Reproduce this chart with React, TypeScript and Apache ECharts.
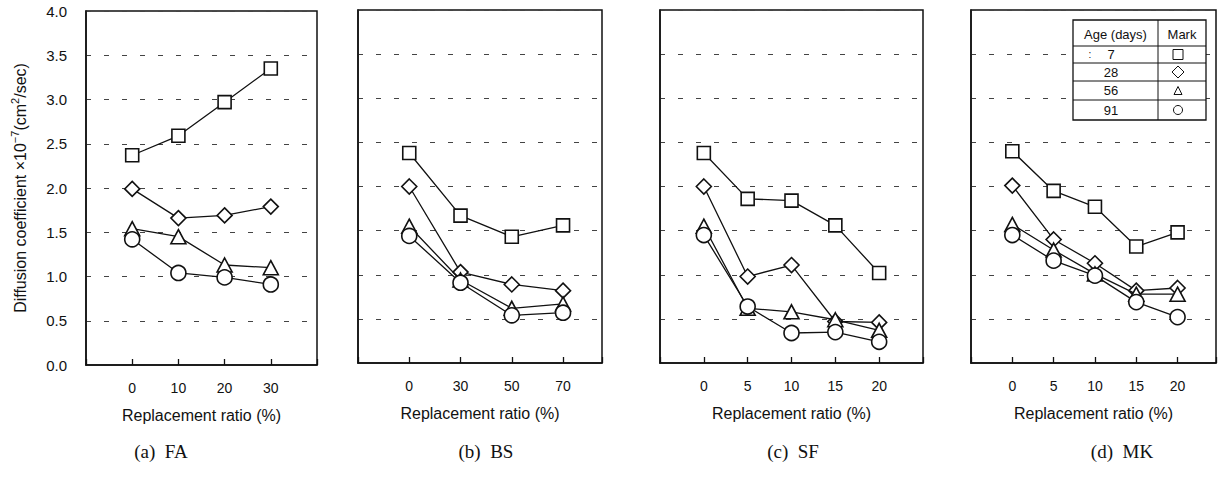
import React, { useEffect, useRef } from "react";
import * as echarts from "echarts";

// Replacement ratio tick labels (%) for each admixture
const faRatios = ["0", "10", "20", "30"];
const bsRatios = ["0", "30", "50", "70"];
const sfRatios = ["0", "5", "10", "15", "20"];
const mkRatios = ["0", "5", "10", "15", "20"];

// Diffusion coefficient (x10^-7 cm2/sec) by curing age: 7, 28, 56, 91 days
const faDay7 = [2.37, 2.59, 2.97, 3.35];
const faDay28 = [1.99, 1.66, 1.69, 1.79];
const faDay56 = [1.54, 1.45, 1.13, 1.1];
const faDay91 = [1.42, 1.04, 0.99, 0.91];

const bsDay7 = [2.38, 1.67, 1.43, 1.56];
const bsDay28 = [2.0, 1.03, 0.89, 0.82];
const bsDay56 = [1.55, 0.94, 0.62, 0.67];
const bsDay91 = [1.44, 0.91, 0.54, 0.57];

const sfDay7 = [2.38, 1.86, 1.84, 1.56, 1.02];
const sfDay28 = [2.0, 0.98, 1.11, 0.47, 0.46];
const sfDay56 = [1.55, 0.62, 0.58, 0.49, 0.37];
const sfDay91 = [1.45, 0.64, 0.34, 0.35, 0.24];

const mkDay7 = [2.4, 1.95, 1.77, 1.32, 1.48];
const mkDay28 = [2.01, 1.4, 1.13, 0.82, 0.85];
const mkDay56 = [1.57, 1.28, 1.01, 0.78, 0.78];
const mkDay91 = [1.45, 1.16, 0.99, 0.69, 0.52];

const ages = ["7", "28", "56", "91"];
const captions = ["(a)  FA", "(b)  BS", "(c)  SF", "(d)  MK"];
const yTicks = [0, 0.5, 1, 1.5, 2, 2.5, 3, 3.5, 4];

const SANS = "'Liberation Sans', Arial, sans-serif";
const SERIF = "'Liberation Serif', 'DejaVu Serif', serif";

const symbols = [
  { symbol: "rect", size: 13 },
  { symbol: "diamond", size: 15 },
  { symbol: "triangle", size: [15, 14] },
  { symbol: "circle", size: 15 },
];

const panels = [
  { ratios: faRatios, ages: [faDay7, faDay28, faDay56, faDay91], grid: { left: 86, top: 11, width: 231, height: 354 }, xMax: 4, center: 161 },
  { ratios: bsRatios, ages: [bsDay7, bsDay28, bsDay56, bsDay91], grid: { left: 358, top: 10, width: 244, height: 353 }, xMax: 3.76, center: 486 },
  { ratios: sfRatios, ages: [sfDay7, sfDay28, sfDay56, sfDay91], grid: { left: 660, top: 10, width: 263, height: 353 }, xMax: 5, center: 793 },
  { ratios: mkRatios, ages: [mkDay7, mkDay28, mkDay56, mkDay91], grid: { left: 971, top: 10, width: 247, height: 353 }, xMax: 4.93, center: 1122 },
];

// Age / mark table drawn in the top right corner of panel (d)
function legendTable() {
  const x0 = 1073, x1 = 1206, xm = 1158;
  const rows = [20, 46, 63, 81, 100, 120];
  const Z = 200;
  const children: any[] = [];
  children.push({
    type: "rect",
    z: Z,
    shape: { x: x0, y: rows[0], width: x1 - x0, height: rows[5] - rows[0] },
    style: { fill: "#fff", stroke: "#111", lineWidth: 1.3 },
  });
  children.push({ type: "line", z: Z + 1, shape: { x1: xm, y1: rows[0], x2: xm, y2: rows[5] }, style: { stroke: "#111", lineWidth: 1 } });
  for (let i = 1; i < 5; i++) {
    children.push({ type: "line", z: Z + 1, shape: { x1: x0, y1: rows[i], x2: x1, y2: rows[i] }, style: { stroke: "#111", lineWidth: 1 } });
  }
  const tf = { fontFamily: "'Liberation Sans Narrow', " + SANS, fontSize: 13, fill: "#111", align: "center", verticalAlign: "middle" };
  children.push({ type: "text", z: Z + 2, x: (x0 + xm) / 2, y: (rows[0] + rows[1]) / 2 + 1, style: { ...tf, text: "Age (days)" } });
  children.push({ type: "text", z: Z + 2, x: (xm + x1) / 2, y: (rows[0] + rows[1]) / 2 + 1, style: { ...tf, text: "Mark" } });
  children.push({ type: "text", z: Z + 2, x: 1090, y: (rows[1] + rows[2]) / 2, style: { ...tf, fontSize: 10, text: ":" } });
  const cx = 1178;
  ages.forEach((a, i) => {
    const cy = (rows[i + 1] + rows[i + 2]) / 2;
    children.push({ type: "text", z: Z + 2, x: 1111, y: cy, style: { ...tf, text: a } });
    const st = { fill: "#fff", stroke: "#111", lineWidth: 1 };
    if (i === 0) children.push({ type: "rect", z: Z + 2, shape: { x: cx - 5, y: cy - 5, width: 10, height: 10 }, style: st });
    if (i === 1) children.push({ type: "polygon", z: Z + 2, shape: { points: [[cx, cy - 6], [cx + 6, cy], [cx, cy + 6], [cx - 6, cy]] }, style: st });
    if (i === 2) children.push({ type: "polygon", z: Z + 2, shape: { points: [[cx, cy - 4], [cx + 4, cy + 4], [cx - 4, cy + 4]] }, style: st });
    if (i === 3) children.push({ type: "circle", z: Z + 2, shape: { cx, cy, r: 4.5 }, style: st });
  });
  return { type: "group", z: Z, children };
}

export default function App() {
  const ref = useRef<HTMLDivElement>(null);

  useEffect(() => {
    if (!ref.current) return;
    const chart = echarts.init(ref.current, null, { renderer: "svg" });

    const grids = panels.map((p) => ({
      ...p.grid,
      show: true,
      borderColor: "#111",
      borderWidth: 1.5,
      backgroundColor: "#fff",
    }));

    const xAxes = panels.map((p, i) => ({
      type: "value",
      gridIndex: i,
      min: -1,
      max: p.xMax,
      interval: 1,
      name: "Replacement ratio (%)",
      nameLocation: "middle",
      nameGap: 42,
      nameTextStyle: { fontFamily: SANS, fontSize: 16, color: "#111" },
      axisLine: { show: true, onZero: false, lineStyle: { color: "#111", width: 1.5 } },
      axisTick: { show: true, inside: true, length: 6, lineStyle: { color: "#111", width: 1.3 } },
      axisLabel: {
        margin: 16,
        fontFamily: SANS,
        fontSize: 14,
        color: "#111",
        formatter: (v: number) => (Number.isInteger(v) && v >= 0 && v < p.ratios.length ? p.ratios[v] : ""),
      },
      splitLine: { show: false },
    }));

    const yAxes = panels.map((p, i) => ({
      type: "value",
      gridIndex: i,
      min: yTicks[0],
      max: yTicks[yTicks.length - 1],
      interval: 0.5,
      name: i === 0 ? "{a|Diffusion coefficient ×10}{s|−7}{a|(cm}{s|2}{a|/sec)}" : "",
      nameLocation: "middle",
      nameGap: 58,
      nameTextStyle: {
        rich: {
          a: { fontFamily: SANS, fontSize: 16, color: "#111", lineHeight: 19, verticalAlign: "bottom" },
          s: { fontFamily: SANS, fontSize: 11, color: "#111", lineHeight: 19, verticalAlign: "top" },
        },
      },
      axisLine: { show: true, onZero: false, lineStyle: { color: "#111", width: 1.5 } },
      axisTick: { show: false },
      axisLabel: {
        show: i === 0,
        margin: 19,
        fontFamily: SANS,
        fontSize: 15,
        color: "#111",
        formatter: (v: number) => v.toFixed(1),
      },
      splitLine: { show: true, lineStyle: { color: "#444", width: 1, type: [5, 13] } },
    }));

    const series: any[] = [];
    panels.forEach((p, pi) => {
      p.ages.forEach((vals, ai) => {
        series.push({
          type: "line",
          name: ages[ai] + " days",
          xAxisIndex: pi,
          yAxisIndex: pi,
          data: vals.map((v, k) => [k, v]),
          symbol: symbols[ai].symbol,
          symbolSize: symbols[ai].size,
          lineStyle: { color: "#111", width: 1.3 },
          itemStyle: { color: "#fff", borderColor: "#111", borderWidth: 1.6 },
          z: 3 + ai,
        });
      });
    });

    const captionTexts = panels.map((p, i) => ({
      type: "text",
      x: p.center,
      y: 451,
      style: { text: captions[i], fontFamily: SERIF, fontSize: 19, fill: "#111", align: "center", verticalAlign: "middle" },
    }));

    chart.setOption({
      animation: false,
      backgroundColor: "#fff",
      grid: grids,
      xAxis: xAxes,
      yAxis: yAxes,
      series,
      graphic: [legendTable(), ...captionTexts],
    });

    return () => chart.dispose();
  }, []);

  return <div ref={ref} style={{ position: "fixed", left: 0, top: 0, width: 1219, height: 477 }} />;
}
